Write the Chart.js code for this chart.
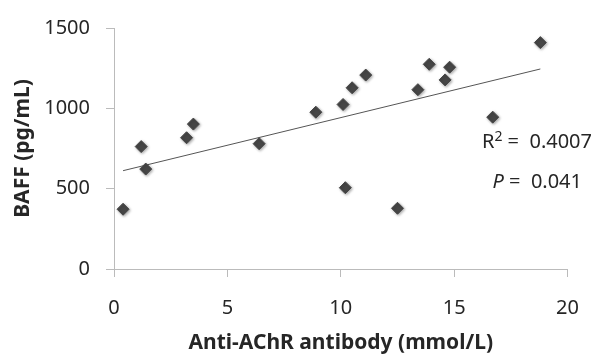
<!DOCTYPE html>
<html>
<head>
<meta charset="utf-8">
<script src="https://cdn.jsdelivr.net/npm/chart.js@4.4.1/dist/chart.umd.min.js"></script>
<style>
  html, body { margin: 0; padding: 0; background: #fff; }
  #wrap { width: 598px; height: 356px; }
</style>
</head>
<body>
<div id="wrap"><canvas id="grafico" width="598" height="356"></canvas></div>
<script>
// datos
const antiAChR = [0.4, 1.2, 1.4, 3.2, 3.5, 6.4, 8.9, 10.1, 10.5, 11.1, 13.4, 13.9, 14.6, 14.8, 16.7, 18.8, 10.2, 12.5];
const baff = [372, 762, 622, 817, 902, 780, 976, 1024, 1128, 1207, 1116, 1274, 1177, 1256, 945, 1409, 506, 378];

// linea de tendencia (extremos)
const tendenciaX = [0.4, 18.8];
const tendenciaY = [612, 1245];

const xTicks = [0, 5, 10, 15, 20];
const yTicks = [0, 500, 1000, 1500];

const textoR2 = '=  0.4007';
const textoP = '=  0.041';

const FUENTE = '"Noto Sans", "Open Sans", sans-serif';

// sombra para los marcadores
const sombraPlugin = {
  id: 'sombra',
  beforeDatasetDraw(chart, args) {
    if (args.index === 0) {
      const ctx = chart.ctx;
      ctx.save();
      ctx.shadowColor = 'rgba(0,0,0,0.35)';
      ctx.shadowBlur = 3;
      ctx.shadowOffsetX = 1;
      ctx.shadowOffsetY = 1;
    }
  },
  afterDatasetDraw(chart, args) {
    if (args.index === 0) chart.ctx.restore();
  }
};

// texto R2 y P
const anotacionPlugin = {
  id: 'anotacion',
  afterDraw(chart) {
    const ctx = chart.ctx;
    const derecha = chart.width - 6;
    ctx.save();
    ctx.fillStyle = '#262626';
    ctx.textBaseline = 'alphabetic';
    ctx.textAlign = 'left';
    ctx.font = '20px ' + FUENTE;
    // R2
    const wResto = ctx.measureText(' ' + textoR2).width;
    const wR = ctx.measureText('R').width;
    ctx.font = '14px ' + FUENTE;
    const w2 = ctx.measureText('2').width;
    let x0 = derecha - wResto - w2 - wR;
    ctx.font = '20px ' + FUENTE;
    ctx.fillText('R', x0, 148);
    ctx.fillText(' ' + textoR2, x0 + wR + w2, 148);
    ctx.font = '14px ' + FUENTE;
    ctx.fillText('2', x0 + wR, 141);
    // P
    ctx.font = '20px ' + FUENTE;
    const wRestoP = ctx.measureText(' ' + textoP).width;
    ctx.font = 'italic 20px ' + FUENTE;
    const wP = ctx.measureText('P').width;
    const xp = derecha - 10 - wRestoP - wP;
    ctx.fillText('P', xp, 188);
    ctx.font = '20px ' + FUENTE;
    ctx.fillText(' ' + textoP, xp + wP, 188);
    ctx.restore();
  }
};

const ctx = document.getElementById('grafico').getContext('2d');
new Chart(ctx, {
  type: 'scatter',
  data: {
    datasets: [{
      data: antiAChR.map((x, i) => ({ x: x, y: baff[i] })),
      pointStyle: 'rectRot',
      pointRadius: 6,
      pointHoverRadius: 6,
      backgroundColor: '#474747',
      borderColor: '#474747',
      borderWidth: 1
    }, {
      type: 'line',
      data: tendenciaX.map((x, i) => ({ x: x, y: tendenciaY[i] })),
      borderColor: '#555',
      borderWidth: 1,
      pointRadius: 0,
      fill: false
    }]
  },
  options: {
    responsive: false,
    animation: false,
    layout: { padding: { top: 23, right: 26, left: 0, bottom: 0 } },
    plugins: { legend: { display: false }, tooltip: { enabled: false } },
    scales: {
      x: {
        type: 'linear',
        min: 0, max: 20,
        afterBuildTicks: s => { s.ticks = xTicks.map(v => ({ value: v })); },
        afterFit: s => { s.height = 87; },
        grid: { drawOnChartArea: false, color: '#bbb', tickLength: 8 },
        border: { color: '#bbb' },
        ticks: { color: '#262626', font: { family: FUENTE, size: 20 }, padding: 19, callback: v => String(v) },
        title: {
          display: true,
          text: 'Anti-AChR antibody (mmol/L)',
          color: '#262626',
          font: { family: FUENTE, size: 21, weight: 'bold' },
          padding: { top: 4, bottom: 0 }
        }
      },
      y: {
        min: 0, max: 1500,
        afterBuildTicks: s => { s.ticks = yTicks.map(v => ({ value: v })); },
        afterFit: s => { s.width = 114; },
        grid: { drawOnChartArea: false, color: '#bbb', tickLength: 8 },
        border: { color: '#bbb' },
        ticks: { color: '#262626', font: { family: FUENTE, size: 20 }, padding: 16, callback: v => String(v) },
        title: {
          display: true,
          text: 'BAFF (pg/mL)',
          color: '#262626',
          font: { family: FUENTE, size: 21, weight: 'bold' },
          padding: { top: 10, bottom: 0 }
        }
      }
    }
  },
  plugins: [sombraPlugin, anotacionPlugin]
});
</script>
</body>
</html>
